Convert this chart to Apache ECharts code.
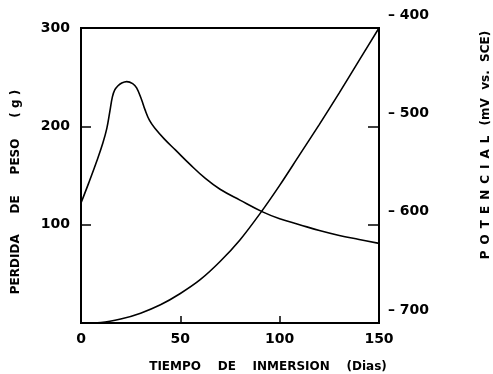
<!DOCTYPE html>
<html>
<head>
<meta charset="utf-8">
<script src="https://cdn.jsdelivr.net/npm/echarts@6/dist/echarts.min.js"></script>
<style>
html,body{margin:0;padding:0;background:#fff;}
#chart{width:493px;height:374px;}
</style>
</head>
<body>
<div id="chart"></div>
<script>
// Data
var diasPeso = [0, 4, 8, 11, 13, 14.5, 15.8, 17, 18.5, 20.5, 23, 26, 28, 30.5, 32.2, 34.5, 37.2, 42, 47.5, 55, 62.6, 70, 80, 91.4, 100, 110, 120, 130, 140, 150];
var perdidaPeso = [122, 143, 165, 183, 198, 215, 230, 237, 241, 244, 245.5, 243.5, 239, 227, 217, 206, 198, 187, 176, 161, 147, 136, 125, 113, 106, 100, 94, 89, 85, 81];
var diasPot = [0, 10, 20, 30, 40, 50, 60, 70, 80, 90, 100, 110, 120, 130, 140, 150];
var potencial = [-700, -699.5, -696, -690, -681.5, -670, -656, -637.5, -615.5, -589, -560, -529, -498, -466, -433, -400];
var xTicks = [0, 50, 100, 150];
var leftTicks = [100, 200, 300];
var rightTicks = [-700, -600, -500, -400];

function pairs(xs, ys){ return xs.map(function(x,i){ return [x, ys[i]]; }); }

var FONT = 'DejaVu Sans';
var chart = echarts.init(document.getElementById('chart'));
chart.setOption({
  animation: false,
  backgroundColor: '#fff',
  grid: {left: 81, right: 114, top: 28, bottom: 51, show: true, borderColor: '#000', borderWidth: 2},
  xAxis: {
    type: 'value', min: 0, max: 150, interval: 50,
    axisLine: {show: true, lineStyle: {color: '#000', width: 2}},
    axisTick: {show: true, inside: true, length: 7, lineStyle: {color: '#000', width: 1.5}},
    splitLine: {show: false},
    axisLabel: {color: '#000', fontFamily: FONT, fontWeight: 'bold', fontSize: 14, margin: 9,
      formatter: function(v){ return xTicks.indexOf(v) >= 0 ? String(v) : ''; }}
  },
  yAxis: [{
    type: 'value', min: 0, max: 300, interval: 100, position: 'left',
    axisLine: {show: true, lineStyle: {color: '#000', width: 2}},
    axisTick: {show: true, inside: true, length: 10, lineStyle: {color: '#000', width: 1.5}},
    splitLine: {show: false},
    axisLabel: {color: '#000', fontFamily: FONT, fontWeight: 'bold', fontSize: 14, margin: 11,
      formatter: function(v){ return leftTicks.indexOf(v) >= 0 ? String(v) : ''; }}
  }, {
    type: 'value', min: -700, max: -400, interval: 100, position: 'right',
    axisLine: {show: true, lineStyle: {color: '#000', width: 2}},
    axisTick: {show: true, inside: true, length: 11, lineStyle: {color: '#000', width: 1.5}},
    splitLine: {show: false},
    axisLabel: {color: '#000', fontFamily: FONT, fontWeight: 'bold', fontSize: 14, margin: 9,
      lineHeight: 26, verticalAlign: 'bottom',
      formatter: function(v){ return rightTicks.indexOf(v) >= 0 ? '\u2013 ' + (-v) : ''; }}
  }],
  graphic: [
    {type: 'text', x: 268, y: 367, style: {text: 'TIEMPO    DE    INMERSION    (Dias)', fill: '#000',
      font: 'bold 12px ' + FONT, align: 'center', verticalAlign: 'middle'}},
    {type: 'text', x: 16, y: 192, rotation: Math.PI/2, style: {text: 'PERDIDA     DE     PESO     ( g )', fill: '#000',
      font: 'bold 12px ' + FONT, align: 'center', verticalAlign: 'middle'}},
    {type: 'text', x: 486, y: 145, rotation: Math.PI/2, style: {text: 'P\u2002O\u2002T\u2002E\u2002N\u2002C\u2002I\u2002A\u2002L\u2002 (mV  vs.  SCE)', fill: '#000',
      font: 'bold 12px ' + FONT, align: 'center', verticalAlign: 'middle'}}
  ],
  series: [{
    type: 'line', yAxisIndex: 0, data: pairs(diasPeso, perdidaPeso), smooth: 0.4,
    showSymbol: false, lineStyle: {color: '#000', width: 1.6}
  }, {
    type: 'line', yAxisIndex: 1, data: pairs(diasPot, potencial), smooth: 0.3,
    showSymbol: false, lineStyle: {color: '#000', width: 1.6}
  }]
});
</script>
</body>
</html>
